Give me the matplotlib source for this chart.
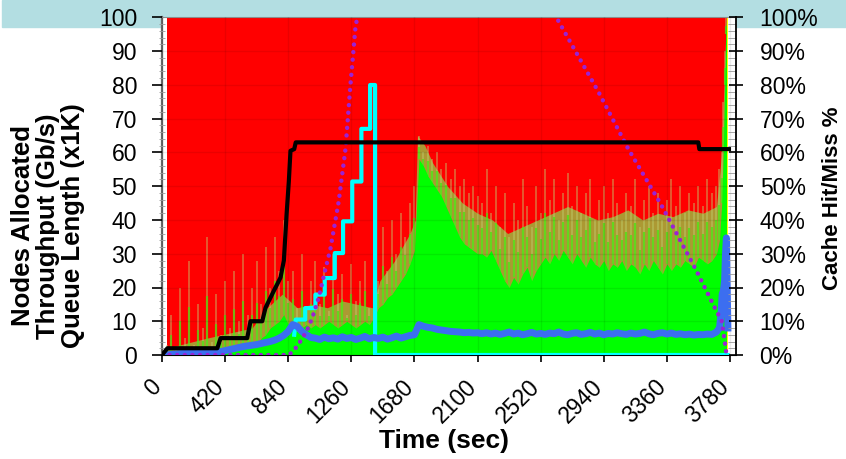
import matplotlib.pyplot as plt
import numpy as np
from matplotlib.patches import Rectangle
from matplotlib.ticker import MultipleLocator

plt.rcParams['font.family'] = ['Liberation Sans', 'DejaVu Sans']

# cache hit/miss fill, sampled every 30 s from 30 to 3690 s, then the ramp at the end
t_grid = np.arange(30, 3691, 30)
green_solid = [0, 0, 0.5, 0, 0, 0.5, 0, 0, 0.5, 0, 0.5, 0.5, 1,
               1.5, 1, 2, 2.5, 2, 3, 3.5,
               3, 5, 6, 8, 9, 10, 12, 9,
               8, 7, 8, 9, 8, 9, 8, 9, 10, 9, 8, 9, 10, 9, 8, 9, 10, 9,
               11, 14, 15, 17, 18, 20, 22, 24, 27, 31,
               58, 56, 53, 51, 49, 47, 44, 41, 38, 35, 33, 32, 31, 30,
               30, 29, 31, 28, 25, 22, 20, 23, 21, 24, 26, 22, 25, 27, 29, 27, 30, 28, 31, 29,
               27, 30, 28, 26, 29, 27, 26, 28, 25, 27, 26, 28, 25, 27, 26, 24, 27, 25, 28, 26,
               24, 27, 25, 27, 26, 28, 27, 26, 29, 28, 27, 28,
               30]
green_peak = [3, 12, 2, 20, 5, 28, 3, 15, 8, 35, 4, 18, 6,
              22, 8, 25, 10, 30, 12, 20,
              28, 15, 32, 20, 35, 25, 40, 22,
              25, 14, 30, 12, 22, 28, 15, 26, 13, 30, 18, 24, 12, 27, 16, 22, 28, 14,
              35, 22, 38, 25, 40, 30, 42, 35, 45, 50,
              65, 60, 62, 58, 60, 55, 57, 52, 55, 50, 52, 48, 50, 47,
              45, 55, 42, 50, 38, 48, 35, 45, 40, 52, 44, 38, 50, 42, 55, 46, 52, 40, 48, 54,
              44, 50, 42, 48, 52, 40, 46, 50, 42, 52, 45, 40, 48, 44, 52, 38, 46, 50, 42, 48,
              40, 46, 52, 44, 50, 42, 48, 45, 50, 44, 52, 48,
              50]
end_t = [3710, 3725, 3735, 3745, 3752, 3757]
end_solid = [34, 45, 60, 80, 95, 100]
end_peak = [55, 60, 75, 90, 100, 100]
yellow_t = [3757, 3768]

# upper edge of the blended hit/miss zone
mix_t = [30, 300, 600, 700, 800, 850, 900, 1000, 1100, 1200, 1300, 1400, 1450, 1550, 1650, 1685,
         1700, 1750, 1800, 1900, 2000, 2100, 2200, 2300, 2400, 2500, 2600, 2700, 2800, 2900,
         3000, 3100, 3200, 3300, 3400, 3500, 3600, 3690, 3725, 3745, 3757]
mix_top = [2, 5, 8, 14, 18, 16, 14, 15, 14, 16, 15, 14, 22, 28, 36, 40,
           65, 62, 57, 50, 45, 42, 40, 36, 38, 40, 42, 44, 42, 40,
           41, 43, 40, 42, 41, 43, 42, 44, 60, 88, 100]

# queue length (x1K)
queue = [0, 0.2, 0.3, 0.4, 0.5, 0.5, 0.6, 0.6, 0.7, 0.8, 0.8, 0.9, 1.0,
         1.3, 1.6, 1.9, 2.2, 2.5, 2.7, 2.9,
         3.1, 3.4, 3.7, 4.0, 4.4, 5.0, 5.8, 7.0,
         9.0, 8.5, 7.0, 6.0, 5.2, 5.0, 4.6, 5.3, 4.8, 5.1, 4.7, 5.4, 4.9, 5.2, 4.6, 5.0, 5.5, 4.8,
         5.2, 4.9, 5.3, 4.7, 5.1, 5.6, 5.0, 5.4, 5.8, 6.0,
         9.0, 8.5, 8.2, 8.0, 7.6, 7.4, 7.2, 7.0, 6.9, 6.8, 6.6, 6.7, 6.5, 6.6,
         6.3, 6.6, 6.2, 6.5, 6.1, 6.4, 6.8, 6.2, 6.5, 6.0, 6.3, 6.7, 6.2, 6.4, 6.1, 6.5, 6.3, 6.8, 6.2, 6.0,
         6.4, 6.6, 6.1, 6.3, 6.7, 6.2, 6.5, 6.0, 6.4, 6.2, 6.6, 6.3, 6.1, 6.5, 6.2, 6.4, 6.8, 6.3, 6.0, 6.4,
         6.6, 6.2, 6.5, 6.1, 6.3, 6.0, 6.2, 5.9, 6.1, 6.0, 6.2, 6.1,
         6.8]
queue_end_t = [3710, 3720, 3728, 3736, 3744, 3750, 3756, 3761, 3766]
queue_end = [8.0, 12, 18, 19, 22, 30, 34.7, 22, 8]

# nodes allocated
nodes_t = [0, 36, 368, 390, 567, 589, 667, 689, 711, 744, 767, 789, 811, 829, 844, 855, 880, 890, 3569, 3576, 3773]
nodes = [0, 2, 2, 5, 5, 10, 10, 14, 16, 19, 21, 23, 28, 41.6, 51.4, 60.5, 61, 63, 63, 61, 61]

# throughput (Gb/s)
tput_t = [880, 890, 953, 953, 1021, 1021, 1083, 1083, 1150, 1150, 1205, 1205, 1266, 1266,
          1327, 1327, 1385, 1385, 1418, 1418, 3765]
tput = [6, 10.5, 10.5, 13.9, 13.9, 17.9, 17.9, 22.8, 22.8, 30.2, 30.2, 39.6, 39.6, 51.4,
        51.4, 67, 67, 80, 80, 0, 0]

# purple dotted curve (leaves the top of the chart in between)
purple_up_t = [0, 845, 880, 920, 961, 1000, 1043, 1080, 1121, 1176, 1221, 1254, 1287, 1299, 1310]
purple_up = [0, 0, 1.5, 4, 7, 11, 17, 24, 31.5, 45.5, 61, 80, 96.8, 100, 104]
purple_down_t = [2612, 2625, 2904, 3100, 3322, 3547, 3680, 3725, 3745, 3757]
purple_down = [101, 100, 78, 61.3, 44.5, 25.8, 13.9, 10, 4, 0]

fig = plt.figure(figsize=(8.46, 4.59), dpi=100)
fig.patches.append(Rectangle((2 / 846, 1 - 27 / 459), 1, 27 / 459, transform=fig.transFigure,
                             color='#B3DEE2', zorder=-5))
ax = fig.add_axes([162 / 846, 1 - 355 / 459, 574 / 846, 337.5 / 459])

ft = np.r_[t_grid, end_t]
gs = np.r_[green_solid, end_solid]
gp = np.maximum(np.r_[green_peak, end_peak], gs)
ax.fill_between(ft, 0, 100, color='#FF0000', lw=0, zorder=1)
ax.fill_between(mix_t, 0, mix_top, color='#98C040', alpha=0.8, lw=0, zorder=1.05)
ax.vlines(ft, gs, gp, color='#C0D070', alpha=0.5, lw=1.2, zorder=1.1)
ax.vlines(ft, gs, 0.5 * (gs + gp), color='#30F000', alpha=0.6, lw=1.6, zorder=1.2)
ax.fill_between(ft, 0, gs, color='#00FF00', lw=0, zorder=1.3)
ax.fill_between(yellow_t, 0, 100, color='#FFFF00', lw=0, zorder=1.3)

ax.plot(tput_t, tput, color='#00FFFF', lw=3, zorder=3)
ax.plot(np.r_[t_grid, queue_end_t], np.r_[queue, queue_end], color='#3C6EF0', lw=5,
        solid_joinstyle='round', zorder=3.2)
dot = dict(color='#9A22D4', lw=3.2, linestyle=(0, (0.01, 1.7)), dash_capstyle='round', zorder=3.4)
ax.plot(purple_up_t, purple_up, **dot)
ax.plot(purple_down_t, purple_down, **dot)
ax.plot(nodes_t, nodes, color='black', lw=3, zorder=3.6)

ax.set_xlim(0, 3820)
ax.set_ylim(0, 100)
ax.set_xticks(np.arange(0, 3781, 420))
ax.set_yticks(np.arange(0, 101, 10))
ax.yaxis.set_minor_locator(MultipleLocator(2))
ax.grid(True, color='black', alpha=0.08, lw=1)
ax.set_axisbelow(False)
ax.tick_params(axis='x', direction='out', length=5, width=1.2, labelsize=16.5, pad=19)
ax.tick_params(axis='y', which='major', direction='out', length=7, width=1.2, labelsize=16.5, pad=11)
ax.tick_params(axis='y', which='minor', direction='inout', length=4, color='#999999')
plt.setp(ax.get_xticklabels(), rotation=45, ha='right', va='baseline', rotation_mode='anchor')
ax.spines['left'].set_color('#666666')
ax.spines['left'].set_linewidth(1.6)
ax.spines['top'].set_color('#999999')
ax.spines['right'].set_visible(False)

ax2 = ax.twinx()
ax2.set_ylim(0, 100)
ax2.set_yticks(np.arange(0, 101, 10))
ax2.set_yticklabels([f'{v}%' for v in range(0, 101, 10)])
ax2.yaxis.set_minor_locator(MultipleLocator(2))
ax2.tick_params(axis='y', which='major', direction='inout', length=10, width=1.2, labelsize=16.5, pad=12)
ax2.tick_params(axis='y', which='minor', direction='in', length=6, color='#999999')
ax2.spines['right'].set_linewidth(1.3)
for s in ['left', 'top', 'bottom']:
    ax2.spines[s].set_visible(False)

fig.text(48 / 846, 1 - 226 / 459, 'Nodes Allocated\nThroughput (Gb/s)\nQueue Length (x1K)',
         rotation=90, ha='center', va='center', multialignment='center',
         fontsize=18.5, fontweight='bold', linespacing=1.05)
fig.text(832 / 846, 1 - 198 / 459, 'Cache Hit/Miss %', rotation=90, ha='center', va='center',
         fontsize=16, fontweight='bold')
fig.text(444 / 846, 1 - 441 / 459, 'Time (sec)', ha='center', va='center',
         fontsize=19, fontweight='bold')

plt.savefig('out.png', dpi=100)
